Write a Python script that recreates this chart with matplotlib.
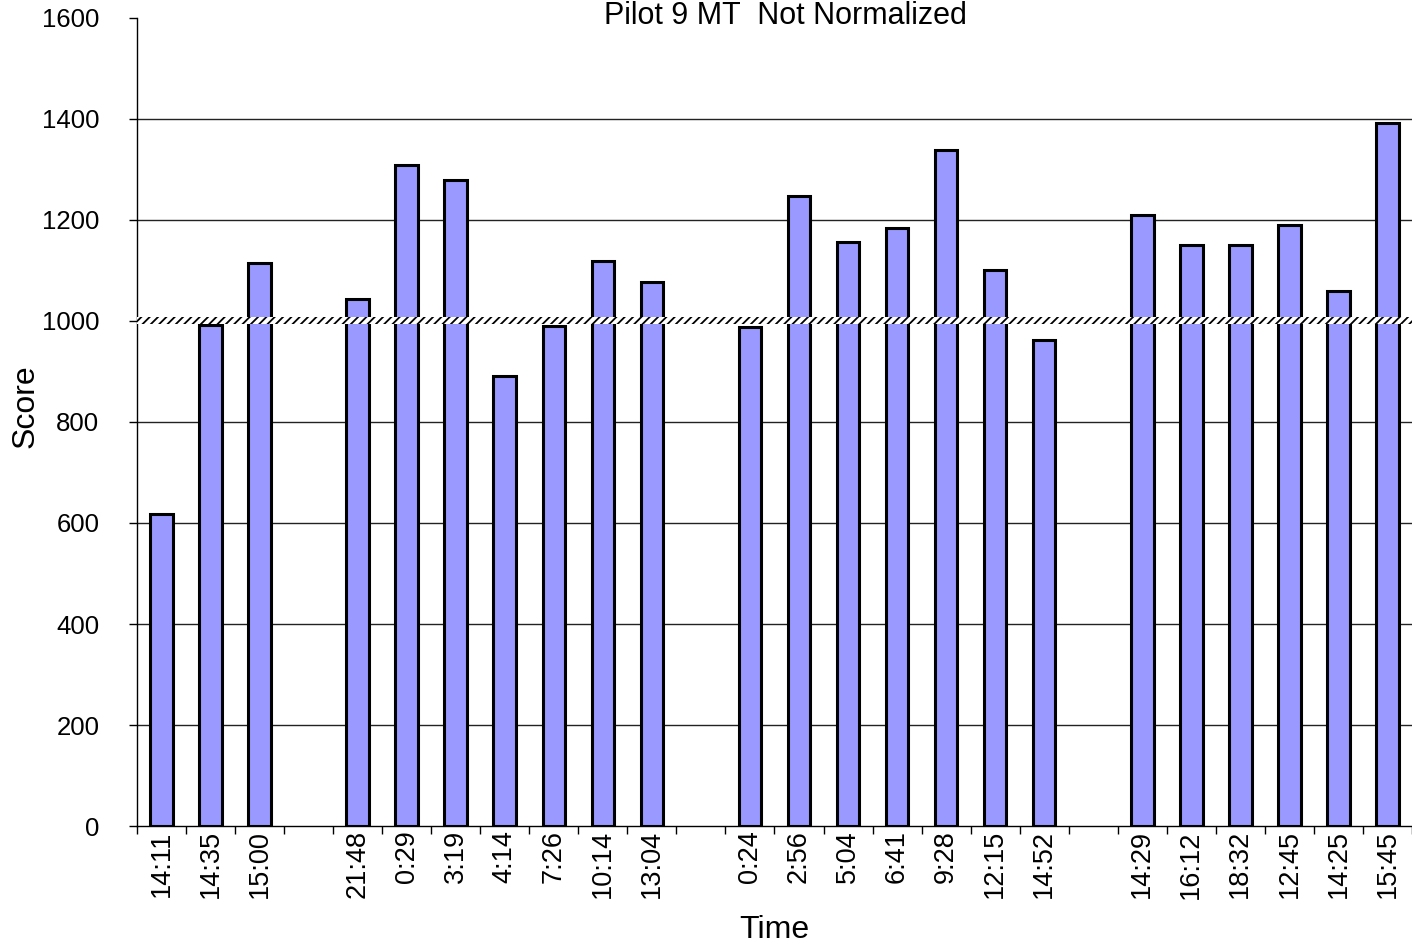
import matplotlib
matplotlib.use("Agg")
import matplotlib.pyplot as plt
from matplotlib.ticker import FixedLocator
import numpy as np

plt.rcParams['font.family'] = ['Liberation Sans', 'DejaVu Sans']
plt.rcParams['hatch.linewidth'] = 1.3

# Session times; empty strings mark the breaks between test days
labels = ["14:11", "14:35", "15:00", "",
          "21:48", "0:29", "3:19", "4:14", "7:26", "10:14", "13:04", "",
          "0:24", "2:56", "5:04", "6:41", "9:28", "12:15", "14:52", "",
          "14:29", "16:12", "18:32", "12:45", "14:25", "15:45"]
scores = [617, 992, 1115, np.nan,
          1044, 1309, 1279, 891, 990, 1119, 1077, np.nan,
          988, 1248, 1156, 1184, 1339, 1101, 962, np.nan,
          1210, 1150, 1150, 1190, 1059, 1392]
baseline = 1000
y_ticks = [0, 200, 400, 600, 800, 1000, 1200, 1400, 1600]

fig = plt.figure(figsize=(14.12, 9.46), dpi=100)
ax = fig.add_axes([0.097, 0.1268, 0.903, 0.8543])

x = np.arange(len(labels))
ax.bar(x, scores, width=0.46, color="#9999FF", edgecolor="black",
       linewidth=2.2, zorder=3)

# Reference level drawn as a hatched band over the bars
ax.axhspan(baseline - 7, baseline + 7, facecolor="white", edgecolor="black",
           hatch="////", linewidth=0, zorder=4)

ax.set_xlim(-0.5, len(labels) - 0.5)
ax.set_ylim(0, 1600)
ax.set_yticks(y_ticks)
# Horizontal grid lines, except at the top of the scale
for yv in y_ticks[1:-1]:
    ax.axhline(yv, color="#222222", linewidth=1.0, zorder=1)

ax.set_xticks(x)
ax.set_xticklabels(labels, rotation=90, fontsize=19.5)
ax.xaxis.set_minor_locator(FixedLocator(np.arange(-0.5, len(labels), 1.0)))
ax.tick_params(axis="x", which="major", length=0, pad=3)
ax.tick_params(axis="x", which="minor", length=6, width=1, direction="out")
ax.tick_params(axis="y", length=6, width=1, pad=21, labelsize=18.5)

for side in ("top", "right"):
    ax.spines[side].set_visible(False)
ax.spines["left"].set_linewidth(1)
ax.spines["bottom"].set_linewidth(1)

ax.set_ylabel("Score", fontsize=23)
ax.yaxis.set_label_coords(-0.076, 0.519)
ax.set_xlabel("Time", fontsize=23, labelpad=12)
fig.text(0.556, 0.999, "Pilot 9 MT  Not Normalized", fontsize=22,
         ha="center", va="top")

fig.savefig("out.png", dpi=100)
